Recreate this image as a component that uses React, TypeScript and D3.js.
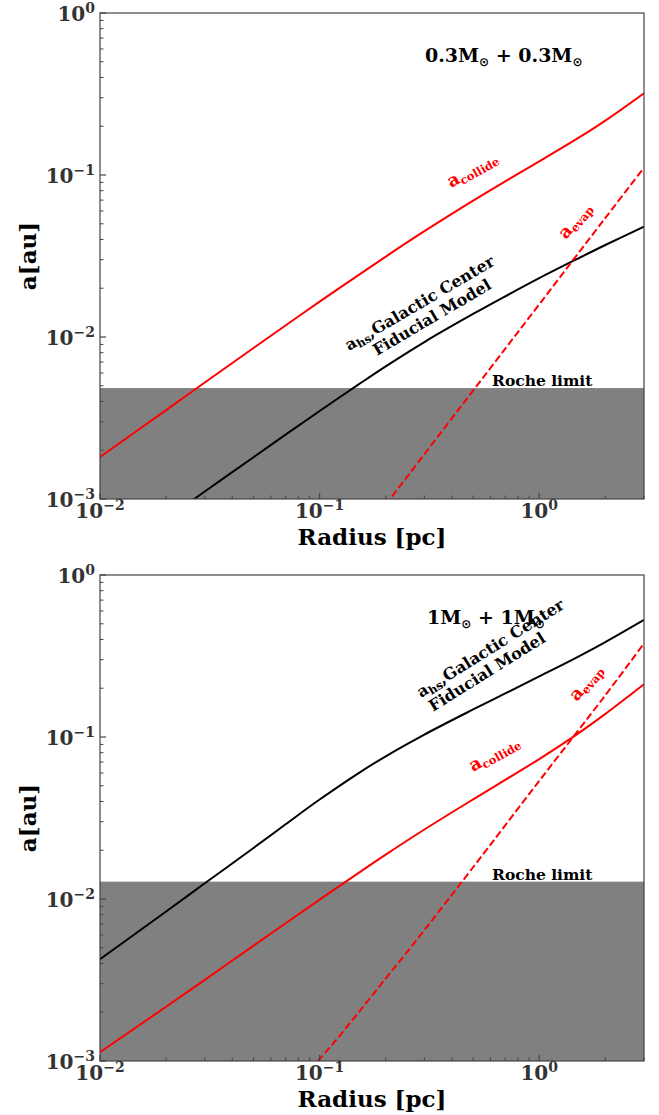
import React from 'react';
import * as d3 from 'd3';

// Axis ticks
const radiusTicks = [0.01, 0.1, 1];
const radiusTickExp = ['−2', '−1', '0'];
const aTicks = [0.001, 0.01, 0.1, 1];
const aTickExp = ['−3', '−2', '−1', '0'];

// Panel 1: 0.3 Msun + 0.3 Msun
const p1CollideR = [0.01, 0.02, 0.03, 0.05, 0.1, 0.2, 0.3, 0.5, 0.7, 1, 1.5, 2, 3];
const p1CollideA = [0.001816, 0.00354, 0.00524, 0.00855, 0.01652, 0.03133, 0.04498, 0.0695, 0.0914, 0.1213, 0.1687, 0.2168, 0.3199];
const p1HsR = [0.02, 0.03, 0.05, 0.07, 0.1, 0.15, 0.2, 0.3, 0.5, 0.7, 1, 1.5, 2, 3];
const p1HsA = [0.000753, 0.001112, 0.001811, 0.002495, 0.003491, 0.00508, 0.00659, 0.00931, 0.01387, 0.01782, 0.02307, 0.03048, 0.03698, 0.04797];
const p1EvapR = [0.2, 0.5, 1, 2, 3];
const p1EvapA = [0.000922, 0.00467, 0.0159, 0.0543, 0.111];
const p1Roche = 0.00484;

// Panel 2: 1 Msun + 1 Msun
const p2CollideR = [0.01, 0.02, 0.03, 0.05, 0.07, 0.1, 0.15, 0.2, 0.3, 0.5, 0.7, 1, 1.5, 2, 3];
const p2CollideA = [0.001135, 0.002163, 0.00317, 0.00515, 0.00708, 0.00991, 0.01445, 0.01879, 0.02685, 0.04121, 0.05433, 0.07311, 0.105, 0.139, 0.2118];
const p2HsR = [0.01, 0.02, 0.03, 0.05, 0.07, 0.1, 0.15, 0.2, 0.3, 0.5, 0.7, 1, 1.5, 2, 3];
const p2HsA = [0.004246, 0.008375, 0.0125, 0.02065, 0.02891, 0.04111, 0.0597, 0.07603, 0.1035, 0.1479, 0.1858, 0.2366, 0.3126, 0.3855, 0.5284];
const p2EvapR = [0.09, 0.1, 0.2, 0.3, 0.5, 1, 2, 3];
const p2EvapA = [0.00091, 0.00103, 0.00323, 0.00643, 0.0157, 0.0536, 0.181, 0.378];
const p2Roche = 0.0128;

const SERIF = "'DejaVu Serif', serif";
const LEFT = 100;
const RIGHT = 644;
const PH = 486;

type PanelProps = {
  top: number;
  id: string;
  collideR: number[]; collideA: number[];
  hsR: number[]; hsA: number[];
  evapR: number[]; evapA: number[];
  roche: number;
  children?: React.ReactNode;
};

function Panel(p: PanelProps) {
  const x = d3.scaleLog().domain([0.01, 3.0]).range([LEFT, RIGHT]);
  const y = d3.scaleLog().domain([1e-3, 1]).range([p.top + PH, p.top]);
  const line = d3.line<[number, number]>().x(d => x(d[0])).y(d => y(d[1])).curve(d3.curveCatmullRom.alpha(0.5));
  const zip = (r: number[], a: number[]) => r.map((v, i) => [v, a[i]] as [number, number]);

  const xMinor: number[] = [];
  for (let k = -2; k <= 0; k++) for (let m = 2; m <= 9; m++) { const v = m * Math.pow(10, k); if (v <= 3.0) xMinor.push(v); }
  const yMinor: number[] = [];
  for (let k = -3; k <= -1; k++) for (let m = 2; m <= 9; m++) yMinor.push(m * Math.pow(10, k));

  const bottom = p.top + PH;
  const tickColor = '#444';
  return (
    <g>
      <defs>
        <clipPath id={p.id}><rect x={LEFT} y={p.top} width={RIGHT - LEFT} height={PH} /></clipPath>
      </defs>
      <rect x={LEFT} y={y(p.roche)} width={RIGHT - LEFT} height={bottom - y(p.roche)} fill="#808080" />
      <g clipPath={`url(#${p.id})`} fill="none">
        <path d={line(zip(p.hsR, p.hsA)) || ''} stroke="#000" strokeWidth={2} />
        <path d={line(zip(p.collideR, p.collideA)) || ''} stroke="#ff0000" strokeWidth={2} />
        <path d={line(zip(p.evapR, p.evapA)) || ''} stroke="#ff0000" strokeWidth={2} strokeDasharray="7.4,3.2" />
      </g>
      {xMinor.map((v, i) => <line key={'xm' + i} x1={x(v)} x2={x(v)} y1={bottom} y2={bottom - 3.5} stroke={tickColor} strokeWidth={1} />)}
      {radiusTicks.map((v, i) => <line key={'xM' + i} x1={x(v)} x2={x(v)} y1={bottom} y2={bottom - 6} stroke={tickColor} strokeWidth={1.2} />)}
      {yMinor.map((v, i) => <line key={'ym' + i} x1={LEFT} x2={LEFT + 3.5} y1={y(v)} y2={y(v)} stroke={tickColor} strokeWidth={1} />)}
      {aTicks.map((v, i) => <line key={'yM' + i} x1={LEFT} x2={LEFT + 6} y1={y(v)} y2={y(v)} stroke={tickColor} strokeWidth={1.2} />)}
      <rect x={LEFT} y={p.top} width={RIGHT - LEFT} height={PH} fill="none" stroke="#444" strokeWidth={1.2} />
      {radiusTicks.map((v, i) => (
        <text key={'xl' + i} x={x(v)} y={bottom + 19} textAnchor="middle" fontFamily={SERIF} fontWeight="bold" fontSize={20} fill="#333">
          10<tspan dy={-8} fontSize={14}>{radiusTickExp[i]}</tspan>
        </text>
      ))}
      {aTicks.map((v, i) => (
        <text key={'yl' + i} x={95} y={y(v) + 8} textAnchor="end" fontFamily={SERIF} fontWeight="bold" fontSize={20} fill="#333">
          10<tspan dy={-8} fontSize={14}>{aTickExp[i]}</tspan>
        </text>
      ))}
      <text x={372} y={bottom + 46} textAnchor="middle" fontFamily={SERIF} fontWeight="bold" fontSize={23} fill="#000">Radius [pc]</text>
      <text transform={`translate(36,${p.top + PH / 2}) rotate(-90)`} textAnchor="middle" fontFamily={SERIF} fontWeight="bold" fontSize={23} fill="#000">a[au]</text>
      <text x={492} y={y(p.roche) - 2} fontFamily={SERIF} fontWeight="bold" fontSize={15.5} fill="#000">Roche limit</text>
      {p.children}
    </g>
  );
}

function Sub({ children, size = 11.5, dy = 3 }: { children: React.ReactNode; size?: number; dy?: number }) {
  return <tspan dy={dy} fontSize={size}>{children}</tspan>;
}

export default function App() {
  return (
    <svg width={659} height={1115} style={{ position: 'absolute', left: 0, top: 0, background: '#fff' }}>
      <Panel top={13} id="c1" collideR={p1CollideR} collideA={p1CollideA} hsR={p1HsR} hsA={p1HsA} evapR={p1EvapR} evapA={p1EvapA} roche={p1Roche}>
        <text x={425} y={62} fontFamily={SERIF} fontWeight="bold" fontSize={19} fill="#000">
          0.3M<tspan dy={4} fontSize={12} fontFamily="'DejaVu Sans'">⊙</tspan><tspan dy={-4}> + 0.3M</tspan><tspan dy={4} fontSize={12} fontFamily="'DejaVu Sans'">⊙</tspan>
        </text>
        <text transform="translate(451,188) rotate(-29)" fontFamily={SERIF} fontWeight="bold" fontSize={18} fill="#ff0000">
          a<Sub>collide</Sub>
        </text>
        <text transform="translate(566,240) rotate(-50)" fontFamily={SERIF} fontWeight="bold" fontSize={18} fill="#ff0000">
          a<Sub>evap</Sub>
        </text>
        <text transform="translate(349,351) rotate(-30.5)" fontFamily={SERIF} fontWeight="bold" fontSize={16} fill="#000">
          a<Sub>hs</Sub><tspan dy={-3}>,Galactic Center</tspan>
        </text>
        <text transform="translate(377,356) rotate(-30.5)" fontFamily={SERIF} fontWeight="bold" fontSize={16} fill="#000">
          Fiducial Model
        </text>
      </Panel>
      <Panel top={575} id="c2" collideR={p2CollideR} collideA={p2CollideA} hsR={p2HsR} hsA={p2HsA} evapR={p2EvapR} evapA={p2EvapA} roche={p2Roche}>
        <text x={427} y={624} fontFamily={SERIF} fontWeight="bold" fontSize={19} fill="#000">
          1M<tspan dy={4} fontSize={12} fontFamily="'DejaVu Sans'">⊙</tspan><tspan dy={-4}> + 1M</tspan><tspan dy={4} fontSize={12} fontFamily="'DejaVu Sans'">⊙</tspan>
        </text>
        <text transform="translate(473,772) rotate(-29)" fontFamily={SERIF} fontWeight="bold" fontSize={18} fill="#ff0000">
          a<Sub>collide</Sub>
        </text>
        <text transform="translate(577,702) rotate(-50)" fontFamily={SERIF} fontWeight="bold" fontSize={18} fill="#ff0000">
          a<Sub>evap</Sub>
        </text>
        <text transform="translate(421,698) rotate(-32)" fontFamily={SERIF} fontWeight="bold" fontSize={16} fill="#000">
          a<Sub>hs</Sub><tspan dy={-3}>,Galactic Center</tspan>
        </text>
        <text transform="translate(433,712) rotate(-32)" fontFamily={SERIF} fontWeight="bold" fontSize={16} fill="#000">
          Fiducial Model
        </text>
      </Panel>
    </svg>
  );
}
